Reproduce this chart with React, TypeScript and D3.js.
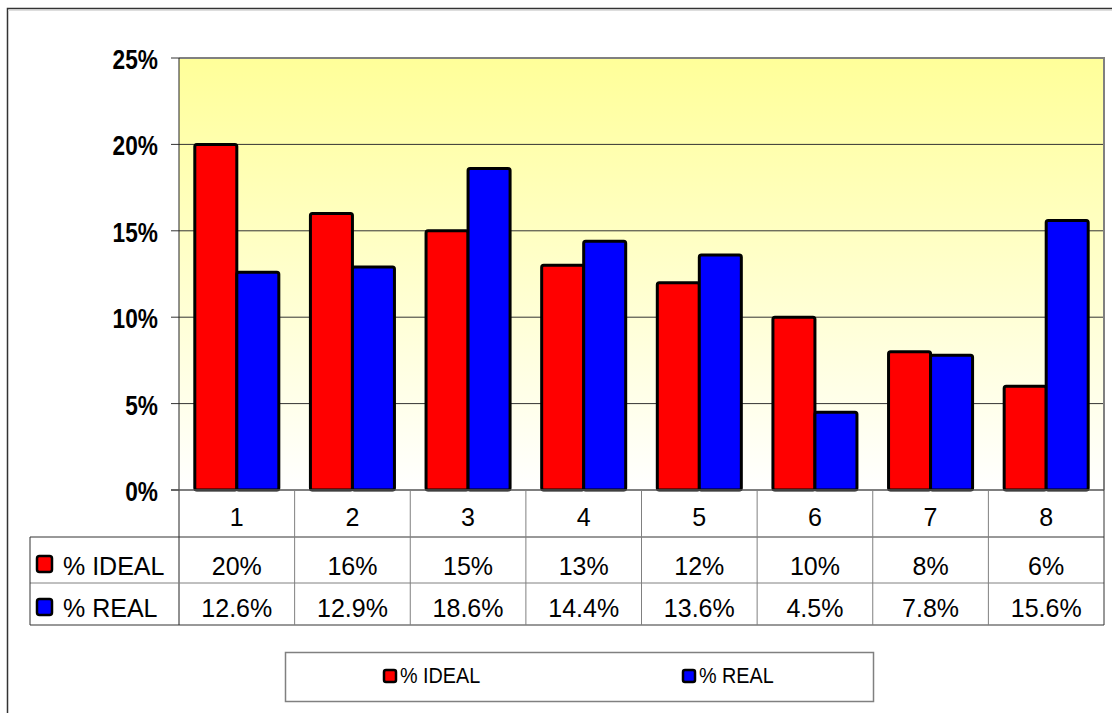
import React from "react";
import * as d3 from "d3";

const categories = ["1", "2", "3", "4", "5", "6", "7", "8"];
const idealValues = [20, 16, 15, 13, 12, 10, 8, 6];
const realValues = [12.6, 12.9, 18.6, 14.4, 13.6, 4.5, 7.8, 15.6];
const idealLabels = ["20%", "16%", "15%", "13%", "12%", "10%", "8%", "6%"];
const realLabels = ["12.6%", "12.9%", "18.6%", "14.4%", "13.6%", "4.5%", "7.8%", "15.6%"];
const seriesNames = ["% IDEAL", "% REAL"];
const seriesColors = ["#FF0000", "#0000FF"];
const yTicks = [0, 5, 10, 15, 20, 25];

const W = 1112;
const H = 713;
const PL = 179;
const PR = 1104;
const PT = 58;
const PB = 490;
const FONT = "'Liberation Sans', Arial, Helvetica, sans-serif";

export default function App() {
  const x = d3.scaleBand<string>().domain(categories).range([PL, PR]).paddingInner(0).paddingOuter(0);
  const sub = d3.scaleBand<string>().domain(seriesNames).range([0, x.bandwidth()]).paddingInner(0).paddingOuter(0.376);
  const y = d3.scaleLinear().domain([0, 25]).range([PB, PT]);

  const rowTop2 = 537;
  const rowTop3 = 583;
  const tableBottom = 625;
  const tableLeft = 30;

  const series = [idealValues, realValues];
  const labels = [idealLabels, realLabels];

  return (
    <svg width={W} height={H} style={{ position: "absolute", left: 0, top: 0, background: "#fff" }} fontFamily={FONT}>
      <defs>
        <linearGradient id="bgGrad" x1="0" y1="0" x2="0" y2="1">
          <stop offset="0" stopColor="#FFFF99" />
          <stop offset="1" stopColor="#FFFFFF" />
        </linearGradient>
      </defs>
      {/* outer frame */}
      <rect x={7.5} y={8.5} width={W} height={H} fill="#fff" stroke="#333" strokeWidth={1.5} />
      <line x1={8} x2={W} y1={10.5} y2={10.5} stroke="#ddd" strokeWidth={1} />

      {/* plot area */}
      <rect x={PL} y={PT} width={PR - PL} height={PB - PT} fill="url(#bgGrad)" />
      {yTicks.map((t) => (
        <g key={t}>
          {t > 0 && (
            <line x1={PL} x2={PR} y1={y(t)} y2={y(t)} stroke={t === 25 ? "#808080" : "#333"} strokeWidth={t === 25 ? 2 : 1} />
          )}
          <line x1={171} x2={PL} y1={y(t)} y2={y(t)} stroke="#333" strokeWidth={1} />
          <text
            transform={`translate(158,${y(t) + 11}) scale(0.84,1)`}
            textAnchor="end"
            fontSize={27}
            fontWeight="bold"
            fill="#000"
          >
            {t}%
          </text>
        </g>
      ))}
      <line x1={PR} x2={PR} y1={PT - 1} y2={PB} stroke="#808080" strokeWidth={2} />
      <line x1={PL} x2={PL} y1={PT} y2={tableBottom} stroke="#222" strokeWidth={1} />

      {/* bars */}
      {categories.map((c, i) => (
        <g key={c}>
          {series.map((vals, s) => {
            const bx = (x(c) as number) + (sub(seriesNames[s]) as number);
            const by = y(vals[i]);
            return (
              <rect
                key={s}
                x={bx}
                y={by}
                width={sub.bandwidth()}
                height={PB - by}
                fill={seriesColors[s]}
                stroke="#000"
                strokeWidth={3}
                rx={2}
              />
            );
          })}
        </g>
      ))}

      <line x1={171} x2={PR} y1={PB} y2={PB} stroke="#555" strokeWidth={1.5} />

      {/* data table */}
      <line x1={tableLeft} x2={PR} y1={rowTop2} y2={rowTop2} stroke="#333" strokeWidth={1} />
      <line x1={tableLeft} x2={PR} y1={rowTop3} y2={rowTop3} stroke="#808080" strokeWidth={1} />
      <line x1={tableLeft} x2={PR} y1={tableBottom} y2={tableBottom} stroke="#333" strokeWidth={1} />
      <line x1={tableLeft} x2={tableLeft} y1={rowTop2} y2={tableBottom} stroke="#333" strokeWidth={1} />
      <line x1={PR} x2={PR} y1={PB} y2={tableBottom} stroke="#333" strokeWidth={1} />
      {categories.slice(1).map((c) => (
        <line key={c} x1={x(c) as number} x2={x(c) as number} y1={PB} y2={tableBottom} stroke="#808080" strokeWidth={1} />
      ))}
      {categories.map((c) => (
        <text key={c} x={(x(c) as number) + x.bandwidth() / 2} y={526} textAnchor="middle" fontSize={25} fill="#000">
          {c}
        </text>
      ))}
      {labels.map((lab, s) => (
        <g key={s}>
          <rect x={37} y={s === 0 ? 556 : 599} width={15} height={16} rx={2.5} fill={seriesColors[s]} stroke="#000" strokeWidth={2.5} />
          <text x={63} y={s === 0 ? 575 : 617} fontSize={25} fill="#000">
            {seriesNames[s]}
          </text>
          {categories.map((c, i) => (
            <text key={c} x={(x(c) as number) + x.bandwidth() / 2} y={s === 0 ? 575 : 617} textAnchor="middle" fontSize={25} fill="#000">
              {lab[i]}
            </text>
          ))}
        </g>
      ))}

      {/* legend */}
      <rect x={285.5} y={652.5} width={588} height={49} fill="#fff" stroke="#808080" strokeWidth={1.5} />
      {seriesNames.map((n, s) => {
        const lx = s === 0 ? 383 : 682;
        return (
          <g key={n}>
            <rect x={lx + 1} y={670} width={12} height={12} rx={2} fill={seriesColors[s]} stroke="#000" strokeWidth={2.5} />
            <text transform={`translate(${lx + 17},683) scale(0.9,1)`} fontSize={22} fill="#000">
              {n}
            </text>
          </g>
        );
      })}
    </svg>
  );
}
